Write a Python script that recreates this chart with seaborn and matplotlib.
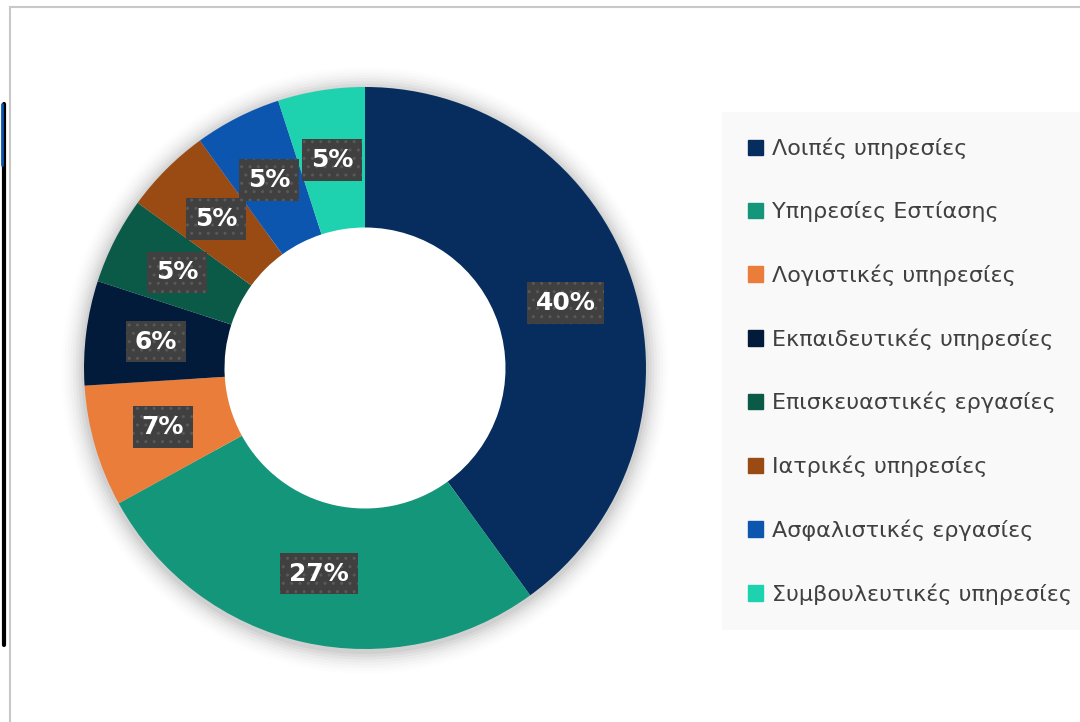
import matplotlib
matplotlib.use("Agg")
import matplotlib.pyplot as plt
import seaborn as sns
from matplotlib.patches import Rectangle, Wedge
from matplotlib.lines import Line2D

categories = [
    "Λοιπές υπηρεσίες",
    "Υπηρεσίες Εστίασης",
    "Λογιστικές υπηρεσίες",
    "Εκπαιδευτικές υπηρεσίες",
    "Επισκευαστικές εργασίες",
    "Ιατρικές υπηρεσίες",
    "Ασφαλιστικές εργασίες",
    "Συμβουλευτικές υπηρεσίες",
]
shares = [40, 27, 7, 6, 5, 5, 5, 5]
colors = ["#062d5e", "#14967a", "#ea7d3a", "#021b3b",
          "#0b5a48", "#9a4a13", "#0c56b0", "#1ed2b0"]

sns.set_theme(style="white")
plt.rcParams["font.family"] = ["DejaVu Sans"]
palette = sns.color_palette(colors)

fig = plt.figure(figsize=(10.8, 7.22), dpi=100)
W, H = 1080, 722

# chart frame
fig.patches.append(Rectangle((10 / W, -0.05), 1.1, 1 - 7 / H + 0.05,
                             transform=fig.transFigure, fill=False,
                             ec="#c8c8c8", lw=1.5))
fig.lines.append(Line2D([4 / W, 4 / W], [1 - 104 / H, 1 - 645 / H],
                        transform=fig.transFigure, color="black", lw=3))
fig.lines.append(Line2D([1.5 / W, 1.5 / W], [1 - 104 / H, 1 - 165 / H],
                        transform=fig.transFigure, color="#0c56b0", lw=2))

cx, cy, R = 365, 722 - 368, 281
ax = fig.add_axes([(cx - R) / W, (cy - R) / H, 2 * R / W, 2 * R / H])

# soft shadow around the ring
for i, a in enumerate([0.04, 0.035, 0.03, 0.025, 0.02, 0.015, 0.01, 0.006]):
    r = 1.0 + 0.01 * (i + 1)
    ax.add_patch(Wedge((0.0, -0.008), r, 0, 360, width=r - 0.6,
                       color="black", alpha=a, lw=0, zorder=0, clip_on=False))

wedges, texts, autotexts = ax.pie(
    shares, colors=palette, startangle=90, counterclock=False,
    radius=1.0, wedgeprops=dict(width=0.5, linewidth=0),
    autopct="%.0f%%", pctdistance=0.75,
    textprops=dict(color="white", fontsize=18, fontweight="bold"),
)
for t in autotexts:
    t.set_bbox(dict(boxstyle="square,pad=0.35", fc="#404040", ec="#595959",
                    lw=0, hatch=".."))
    t.set_zorder(5)
ax.set_xlim(-1, 1)
ax.set_ylim(-1, 1)
ax.set_aspect("equal")
ax.axis("off")

handles = [Rectangle((0, 0), 1, 1, color=c) for c in palette]
leg = fig.legend(handles, categories, loc="upper left",
                 bbox_to_anchor=(722 / W, 1 - 112 / H),
                 frameon=True, fancybox=False, fontsize=16,
                 labelcolor="#404040", handlelength=0.7, handleheight=0.7,
                 handletextpad=0.4, labelspacing=1.9, borderpad=1.15,
                 borderaxespad=0)
leg.get_frame().set_facecolor("#f8f8f8")
leg.get_frame().set_edgecolor("none")

fig.savefig("out.png", dpi=100)
